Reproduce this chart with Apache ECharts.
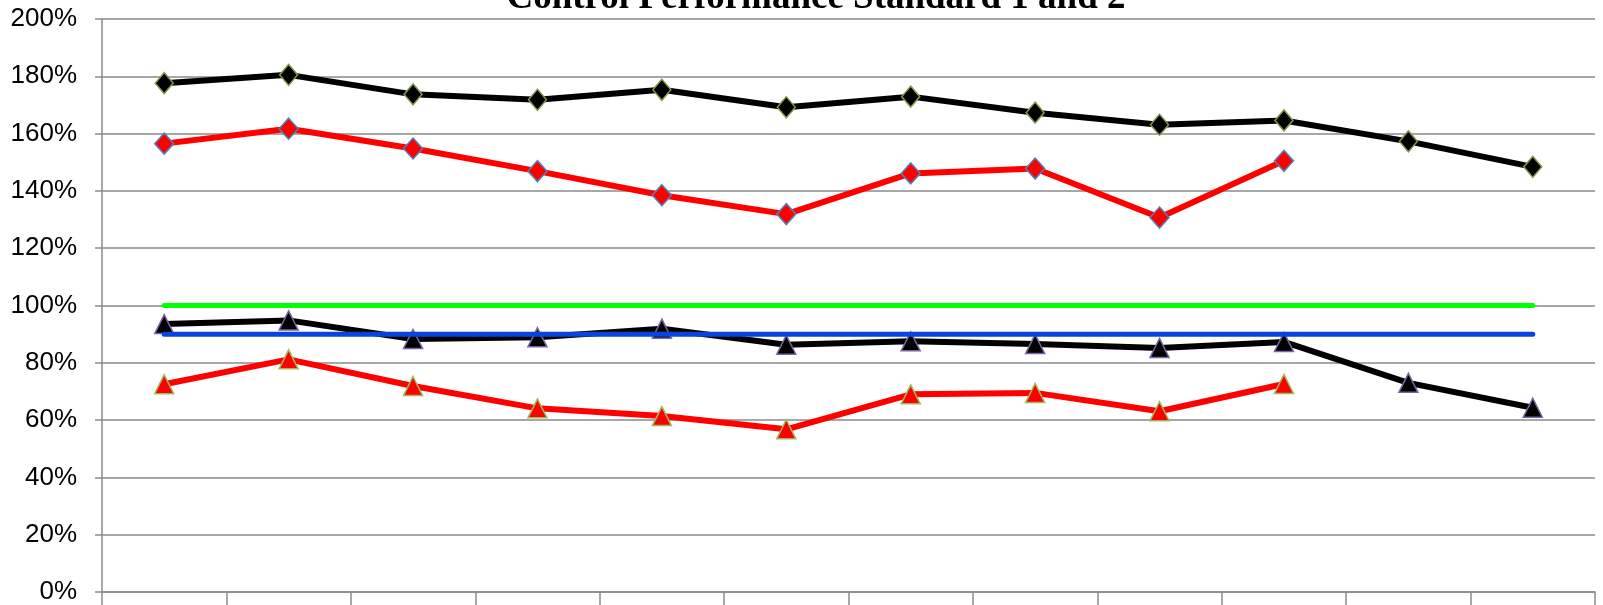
<!DOCTYPE html>
<html>
<head>
<meta charset="utf-8">
<title>Control Performance Standard 1 and 2</title>
<script src="https://cdn.jsdelivr.net/npm/echarts@6/dist/echarts.min.js"></script>
<style>
  html, body { margin: 0; padding: 0; background: #ffffff; }
  #chart { width: 1603px; height: 605px; }
</style>
</head>
<body>
<div id="chart"></div>
<script>
// Months of the reporting year (axis labels are not shown)
const months = ['Jan', 'Feb', 'Mar', 'Apr', 'May', 'Jun', 'Jul', 'Aug', 'Sep', 'Oct', 'Nov', 'Dec'];

// CPS1 scores (%), prior year and current year
const cps1Prior   = [177.6, 180.5, 173.7, 171.8, 175.3, 169.2, 172.9, 167.3, 163.1, 164.6, 157.3, 148.4];
const cps1Current = [156.5, 161.7, 154.8, 146.9, 138.5, 131.9, 146.1, 147.8, 130.7, 150.5];

// CPS2 scores (%), prior year and current year
const cps2Prior   = [93.5, 94.8, 88.3, 88.9, 91.9, 86.3, 87.5, 86.6, 85.2, 87.3, 73.0, 64.3];
const cps2Current = [72.5, 81.2, 71.9, 64.1, 61.4, 56.8, 69.0, 69.5, 63.1, 72.6];

// Compliance thresholds (%)
const cps1Limit = [100, 100, 100, 100, 100, 100, 100, 100, 100, 100, 100, 100];
const cps2Limit = [90, 90, 90, 90, 90, 90, 90, 90, 90, 90, 90, 90];

// Value axis range (%)
const yMin = 0, yMax = 200, yStep = 20;

const gridColor = '#8a8a8a';
const chart = echarts.init(document.getElementById('chart'), null, { renderer: 'canvas' });

function scoreSeries(name, data, color, symbol, size, border) {
  return {
    name: name,
    type: 'line',
    data: data,
    symbol: symbol,
    symbolSize: size,
    showSymbol: true,
    z: 2,
    lineStyle: { color: color, width: 6, join: 'round' },
    itemStyle: { color: color, borderColor: border, borderWidth: 1.5 },
    emphasis: { disabled: true },
    animation: false
  };
}

function limitSeries(name, data, color) {
  return {
    name: name,
    type: 'line',
    data: data,
    symbol: 'none',
    z: 3,
    lineStyle: { color: color, width: 5, cap: 'round' },
    emphasis: { disabled: true },
    animation: false
  };
}

chart.setOption({
  animation: false,
  backgroundColor: '#ffffff',
  graphic: [{
    type: 'text',
    x: 816,
    y: -2,
    z: 10,
    style: {
      text: 'Control Performance Standard 1 and 2',
      font: 'bold 37px "Liberation Serif", "Times New Roman", serif',
      fill: '#000000',
      align: 'center',
      verticalAlign: 'middle'
    }
  }],
  grid: { left: 102, right: 8, top: 19, bottom: 12, containLabel: false },
  xAxis: {
    type: 'category',
    data: months,
    boundaryGap: true,
    axisLine: { show: true, lineStyle: { color: gridColor, width: 1.5 } },
    axisTick: { show: true, alignWithLabel: false, length: 14, lineStyle: { color: gridColor, width: 1.5 } },
    axisLabel: { show: false },
    splitLine: { show: false }
  },
  yAxis: {
    type: 'value',
    min: yMin,
    max: yMax,
    interval: yStep,
    axisLine: { show: true, lineStyle: { color: gridColor, width: 1.5 } },
    axisTick: { show: true, inside: false, length: 7, lineStyle: { color: gridColor, width: 1.5 } },
    axisLabel: {
      formatter: '{value}%',
      margin: 25,
      color: '#000000',
      fontFamily: '"Liberation Sans", Arial, sans-serif',
      fontSize: 26
    },
    splitLine: { show: true, lineStyle: { color: gridColor, width: 1.5 } }
  },
  series: [
    scoreSeries('CPS1 prior year', cps1Prior, '#000000', 'diamond', [18, 21], '#7f9a48'),
    scoreSeries('CPS1 current year', cps1Current, '#ff0000', 'diamond', [19, 21], '#4f81bd'),
    scoreSeries('CPS2 prior year', cps2Prior, '#000000', 'triangle', [19, 19], '#7b64a2'),
    scoreSeries('CPS2 current year', cps2Current, '#ff0000', 'triangle', [19, 19], '#9bbb59'),
    limitSeries('CPS1 limit', cps1Limit, '#00ff00'),
    limitSeries('CPS2 limit', cps2Limit, '#0a44de')
  ]
});
</script>
</body>
</html>
